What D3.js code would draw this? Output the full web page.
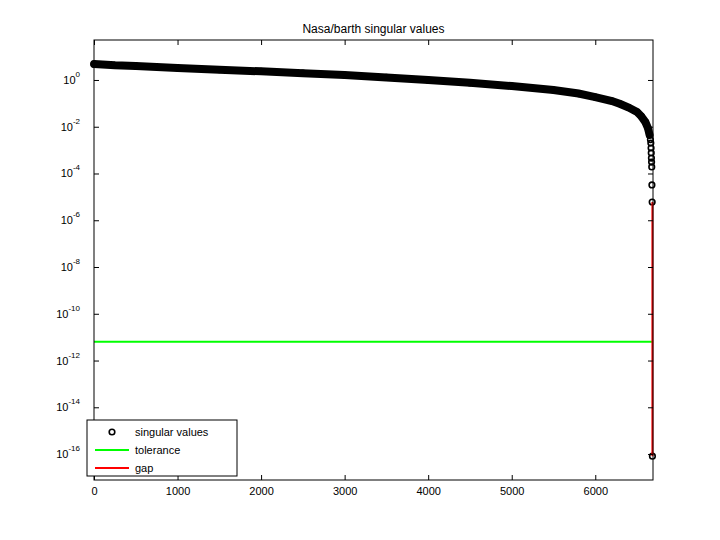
<!DOCTYPE html>
<html><head><meta charset="utf-8">
<script src="https://cdn.jsdelivr.net/npm/d3@7"></script>
<style>body{margin:0;background:#fff}text{font-family:"Liberation Sans",Arial,sans-serif}</style>
</head><body>
<svg id="chart" width="720" height="540"></svg>
<script>
// singular value index and log10(value)
var svIndex = [1, 250, 500, 1000, 1500, 2000, 2500, 3000, 3500, 4000, 4500, 5000, 5500, 5800, 6000, 6200, 6300, 6400, 6500, 6550, 6600, 6630, 6650, 6660, 6665, 6668, 6670, 6672, 6674, 6676, 6678, 6681, 6684];
var svLog = [0.68, 0.63, 0.6, 0.51, 0.44, 0.37, 0.29, 0.21, 0.11, 0.0, -0.12, -0.26, -0.43, -0.58, -0.73, -0.9, -1.03, -1.18, -1.37, -1.55, -1.8, -2.05, -2.35, -2.55, -2.7, -2.91, -3.12, -3.34, -3.51, -3.72, -4.49, -5.22, -16.09];
var tolerance = -11.2;
var gapIndex = 6684, gapFrom = -5.22, gapTo = -16.09;
var xTicks = [0, 1000, 2000, 3000, 4000, 5000, 6000];
var yTickExp = [0, -2, -4, -6, -8, -10, -12, -14, -16];
var legendLabels = ['singular values', 'tolerance', 'gap'];

(function () {
var svg = d3.select('#chart'),
    mLeft = 94, mRight = 653, mTop = 40, mBottom = 480;

var x = d3.scaleLinear().domain([0, 6691]).range([mLeft, mRight]),
    y = d3.scaleLinear().domain([-17.11, 1.71]).range([mBottom, mTop]);

svg.append('text').attr('x', (mLeft + mRight) / 2).attr('y', 33).attr('text-anchor', 'middle')
    .attr('font-size', 12).text('Nasa/barth singular values');

var pts = svIndex.map(function (d, i) { return [d, svLog[i]]; });
var band = pts.filter(function (d) { return d[1] > -2.4; });

// dense markers form a thick band
svg.append('path').datum(band)
    .attr('d', d3.line().x(function (d) { return x(d[0]); }).y(function (d) { return y(d[1]); }))
    .attr('fill', 'none').attr('stroke', '#000').attr('stroke-width', 8).attr('stroke-linecap', 'round');

svg.selectAll('circle.sv').data(pts).enter().append('circle')
    .attr('class', 'sv').attr('cx', function (d) { return x(d[0]); }).attr('cy', function (d) { return y(d[1]); })
    .attr('r', 2.8).attr('fill', 'none').attr('stroke', '#000').attr('stroke-width', 1.6);

svg.append('line').attr('x1', x(0)).attr('x2', x(6691)).attr('y1', y(tolerance)).attr('y2', y(tolerance))
    .attr('stroke', '#00ff00').attr('stroke-width', 2);
svg.append('line').attr('x1', x(gapIndex)).attr('x2', x(gapIndex)).attr('y1', y(gapFrom)).attr('y2', y(gapTo))
    .attr('stroke', '#ff0000').attr('stroke-width', 2);

// frame
svg.append('rect').attr('x', mLeft).attr('y', mTop).attr('width', mRight - mLeft).attr('height', mBottom - mTop)
    .attr('fill', 'none').attr('stroke', '#000');

var xAxis = svg.append('g').attr('transform', 'translate(0,' + mBottom + ')')
    .call(d3.axisBottom(x).tickValues(xTicks).tickSize(-5).tickPadding(7).tickFormat(d3.format('d')));
var xTop = svg.append('g').attr('transform', 'translate(0,' + mTop + ')')
    .call(d3.axisTop(x).tickValues(xTicks).tickSize(-5).tickFormat(''));
var yAxis = svg.append('g').attr('transform', 'translate(' + mLeft + ',0)')
    .call(d3.axisLeft(y).tickValues(yTickExp).tickSize(-5).tickFormat(''));
var yRight = svg.append('g').attr('transform', 'translate(' + mRight + ',0)')
    .call(d3.axisRight(y).tickValues(yTickExp).tickSize(-5).tickFormat(''));
[xAxis, xTop, yAxis, yRight].forEach(function (g) {
    g.select('.domain').remove();
    g.selectAll('text').attr('font-size', 11).attr('font-family', '"Liberation Sans",Arial,sans-serif');
});

var lbl = svg.append('g').selectAll('text').data(yTickExp).enter().append('text')
    .attr('x', 80).attr('y', function (d) { return y(d) + 4; }).attr('text-anchor', 'end').attr('font-size', 11);
lbl.append('tspan').text('10');
lbl.append('tspan').attr('dy', -7).attr('font-size', 8).text(function (d) { return d; });

// legend
var lg = svg.append('g').attr('transform', 'translate(87,420)');
lg.append('rect').attr('width', 150).attr('height', 56).attr('fill', '#fff').attr('stroke', '#000');
var colors = ['#000', '#00ff00', '#ff0000'];
legendLabels.forEach(function (t, i) {
    var yy = 12 + i * 18;
    if (i === 0) {
        lg.append('circle').attr('cx', 25).attr('cy', yy).attr('r', 2.8).attr('fill', 'none')
            .attr('stroke', '#000').attr('stroke-width', 1.6);
    } else {
        lg.append('line').attr('x1', 8).attr('x2', 42).attr('y1', yy).attr('y2', yy)
            .attr('stroke', colors[i]).attr('stroke-width', 2);
    }
    lg.append('text').attr('x', 48).attr('y', yy + 4).attr('font-size', 11).text(t);
});
})();
</script>
</body></html>
